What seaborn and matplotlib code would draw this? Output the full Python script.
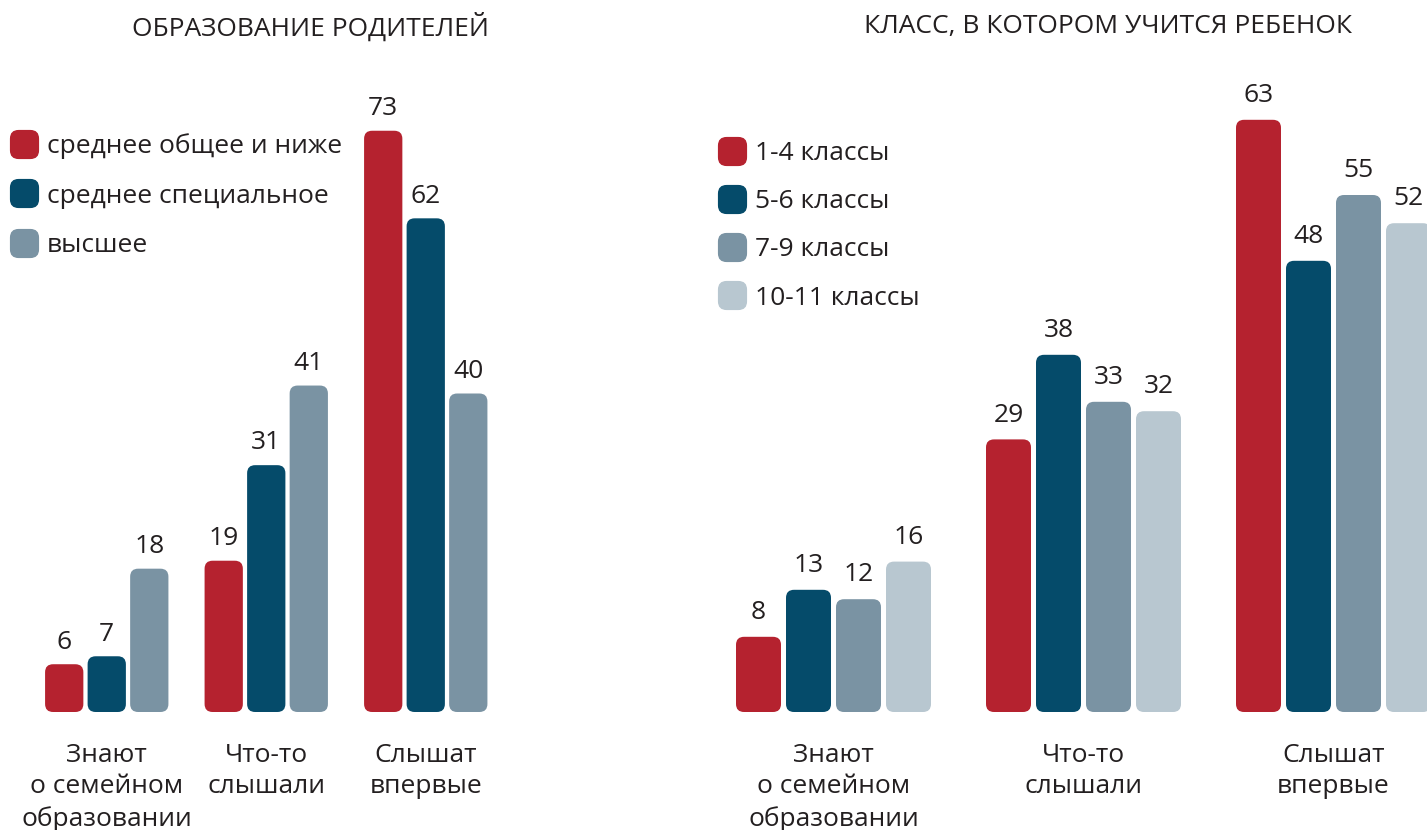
import numpy as np
import pandas as pd
import matplotlib
matplotlib.use("Agg")
import matplotlib.pyplot as plt
import matplotlib.patches as mpatches
from matplotlib.lines import Line2D
import seaborn as sns

# ---------------- data ----------------
categories = ["Знают\nо семейном\nобразовании", "Что-то\nслышали", "Слышат\nвпервые"]

edu_title = "ОБРАЗОВАНИЕ РОДИТЕЛЕЙ"
edu_groups = ["среднее общее и ниже", "среднее специальное", "высшее"]
edu_low = [6, 19, 73]
edu_special = [7, 31, 62]
edu_high = [18, 41, 40]

class_title = "КЛАСС, В КОТОРОМ УЧИТСЯ РЕБЕНОК"
class_groups = ["1-4 классы", "5-6 классы", "7-9 классы", "10-11 классы"]
class_1_4 = [8, 29, 63]
class_5_6 = [13, 38, 48]
class_7_9 = [12, 33, 55]
class_10_11 = [16, 32, 52]

colors = ["#B5222F", "#054B6A", "#7A93A3", "#B8C7D0"]

# ---------------- style ----------------
sns.set_theme(style="white")
plt.rcParams["font.family"] = ["Open Sans", "DejaVu Sans"]
TEXT = "#231F20"
FS = 19

W, H = 1427, 830
fig = plt.figure(figsize=(W / 100, H / 100), dpi=100)
fig.patch.set_facecolor("white")


def px_axes(left, right, bottom_px, top_px):
    return fig.add_axes([left / W, 1 - bottom_px / H, (right - left) / W, (bottom_px - top_px) / H])


def make_df(groups, series):
    rows = []
    for g, vals in zip(groups, series):
        for c, v in zip(categories, vals):
            rows.append({"category": c, "group": g, "value": v})
    return pd.DataFrame(rows)


def round_bars(ax, radius_px):
    fig.canvas.draw()
    bbox = ax.get_window_extent()
    x0, x1 = ax.get_xlim()
    y0, y1 = ax.get_ylim()
    pxx = bbox.width / (x1 - x0)
    pxy = bbox.height / (y1 - y0)
    r = radius_px / pxx
    aspect = pxx / pxy
    for cont in ax.containers:
        for bar in cont:
            x, y = bar.get_x(), bar.get_y()
            w, h = bar.get_width(), bar.get_height()
            fc = bar.get_facecolor()
            bar.set_visible(False)
            p = mpatches.FancyBboxPatch((x, y), w, h,
                                        boxstyle=f"round,pad=0,rounding_size={r}",
                                        mutation_aspect=aspect,
                                        facecolor=fc, edgecolor="none", zorder=2)
            ax.add_patch(p)


def label_bars(ax, offset):
    for cont in ax.containers:
        for bar in cont:
            h = bar.get_height()
            ax.annotate(f"{int(round(h))}", (bar.get_x() + bar.get_width() / 2, h),
                        xytext=(0, offset), textcoords="offset points",
                        ha="center", va="bottom", fontsize=FS, color=TEXT)


def style_axes(ax):
    for s in ax.spines.values():
        s.set_visible(False)
    ax.set_yticks([])
    ax.set_xlabel("")
    ax.set_ylabel("")
    ax.tick_params(axis="x", length=0, pad=22, labelsize=FS, labelcolor=TEXT)
    for t in ax.get_xticklabels():
        t.set_linespacing(1.35)
        t.set_va("top")
    ax.set_facecolor("none")


def rounded_marker():
    p = mpatches.FancyBboxPatch((-0.5, -0.5), 1, 1, boxstyle="round,pad=0,rounding_size=0.3")
    return p.get_path()


# ---------------- left panel ----------------
axL = px_axes(27, 505.5, 712, 75)
dfL = make_df(edu_groups, [edu_low, edu_special, edu_high])
sns.barplot(data=dfL, x="category", y="value", hue="group", hue_order=edu_groups,
            palette=colors[:3], width=0.8, gap=0.1, legend=False, ax=axL,
            errorbar=None, saturation=1)
axL.set_xlim(-0.5, 2.5)
axL.set_ylim(0, 80)
style_axes(axL)
label_bars(axL, 7)
round_bars(axL, 8)

mk = rounded_marker()
handlesL = [Line2D([], [], linestyle="none", marker=mk, markersize=21,
                   markerfacecolor=c, markeredgecolor="none") for c in colors[:3]]
axL.legend(handlesL, edu_groups, loc="upper left", bbox_to_anchor=(11 / W, 1 - 133 / H),
           bbox_transform=fig.transFigure, frameon=False, fontsize=FS,
           labelcolor=TEXT, handlelength=1.0, handletextpad=0.35, labelspacing=0.94,
           borderaxespad=0, borderpad=0)

fig.text(311 / W, 1 - 27 / H, edu_title, ha="center", va="center", fontsize=FS, color=TEXT)

# ---------------- right panel ----------------
xl_px = 708.5
axR_right = 1427
axR = px_axes(xl_px, axR_right, 712, 54)
dfR = make_df(class_groups, [class_1_4, class_5_6, class_7_9, class_10_11])
sns.barplot(data=dfR, x="category", y="value", hue="group", hue_order=class_groups,
            palette=colors, width=0.8, gap=0.1, legend=False, ax=axR,
            errorbar=None, saturation=1)
axR.set_xlim(-0.5, -0.5 + (axR_right - xl_px) / 250)
axR.set_ylim(0, 70)
style_axes(axR)
label_bars(axR, 8.5)
round_bars(axR, 8)

handlesR = [Line2D([], [], linestyle="none", marker=mk, markersize=21,
                   markerfacecolor=c, markeredgecolor="none") for c in colors]
axR.legend(handlesR, class_groups, loc="upper left", bbox_to_anchor=(719 / W, 1 - 141 / H),
           bbox_transform=fig.transFigure, frameon=False, fontsize=FS,
           labelcolor=TEXT, handlelength=1.0, handletextpad=0.35, labelspacing=0.88,
           borderaxespad=0, borderpad=0)

fig.text(1108 / W, 1 - 27 / H, class_title, ha="center", va="center", fontsize=FS, color=TEXT)

fig.savefig("out.png", dpi=100, facecolor="white")
